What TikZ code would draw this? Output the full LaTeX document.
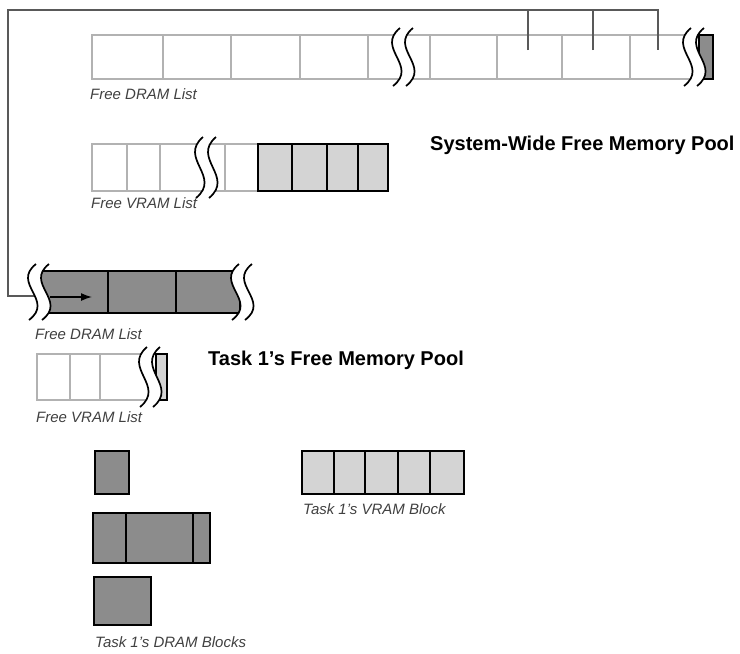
\documentclass[tikz,border=0pt]{standalone}
\usepackage{fontspec}
\setmainfont{Liberation Sans}
\usepackage{tikz}
\usetikzlibrary{arrows.meta}

% cut mark for a list that goes on: two waves with white between them
\newcommand{\membreak}[3]{%
  \pgfmathsetmacro{\bxa}{#1}\pgfmathsetmacro{\bxb}{#1+13}%
  \pgfmathsetmacro{\byt}{#2-7}\pgfmathsetmacro{\byb}{#3+7}%
  \pgfmathsetmacro{\byu}{\byt+0.35*(\byb-\byt)}\pgfmathsetmacro{\byl}{\byb-0.35*(\byb-\byt)}%
  \fill[white] (\bxa+3,\byt) .. controls (\bxa-22,\byu) and (\bxa+22,\byl) .. (\bxa-4,\byb)
    -- (\bxb-4,\byb) .. controls (\bxb+22,\byl) and (\bxb-22,\byu) .. (\bxb+3,\byt) -- cycle;
  \draw[wave] (\bxa+3,\byt) .. controls (\bxa-22,\byu) and (\bxa+22,\byl) .. (\bxa-4,\byb);
  \draw[wave] (\bxb+3,\byt) .. controls (\bxb-22,\byu) and (\bxb+22,\byl) .. (\bxb-4,\byb);
}

\begin{document}
\begin{tikzpicture}[
    x=1pt, y=-1pt,
    freecell/.style={rectangle, draw=black!30, line width=1.3pt, fill=white, inner sep=0pt, outer sep=0pt},
    dramcell/.style={rectangle, draw=black, line width=1.6pt, fill=black!45, inner sep=0pt, outer sep=0pt},
    vramcell/.style={rectangle, draw=black, line width=1.6pt, fill=black!17, inner sep=0pt, outer sep=0pt},
    wave/.style={draw=black, line width=1.7pt},
    link/.style={draw=black!65, line width=1.2pt},
    ptr/.style={-{Latex[length=11pt, width=8pt]}, line width=1.4pt},
    listlabel/.style={font=\fontsize{15}{17}\selectfont\itshape, text=black!75, anchor=base west, inner sep=0pt},
    poollabel/.style={font=\fontsize{20}{24}\selectfont\bfseries, anchor=base west, inner sep=0pt}
]
\useasboundingbox (0,0) rectangle (740,654);

% System-wide free DRAM list
\node[freecell, minimum width=71, minimum height=44] (sd1) at (127.5,57) {};
\node[freecell, minimum width=68, minimum height=44] (sd2) at (197,57) {};
\node[freecell, minimum width=69, minimum height=44] (sd3) at (265.5,57) {};
\node[freecell, minimum width=68, minimum height=44] (sd4) at (334,57) {};
\node[freecell, minimum width=62, minimum height=44] (sd5) at (399,57) {};
\node[freecell, minimum width=67, minimum height=44] (sd6) at (463.5,57) {};
\node[freecell, minimum width=65, minimum height=44] (sd7) at (529.5,57) {};
\node[freecell, minimum width=68, minimum height=44] (sd8) at (596,57) {};
\node[freecell, minimum width=65, minimum height=44] (sd9) at (662.5,57) {};
\node[dramcell, minimum width=14, minimum height=44] (sdend) at (706,57) {};

% System-wide free VRAM list
\node[freecell, minimum width=35, minimum height=47] (sv1) at (109.5,167.5) {};
\node[freecell, minimum width=33, minimum height=47] (sv2) at (143.5,167.5) {};
\node[freecell, minimum width=65, minimum height=47] (sv3) at (192.5,167.5) {};
\node[freecell, minimum width=33, minimum height=47] (sv4) at (241.5,167.5) {};
\node[vramcell, minimum width=34, minimum height=47] (sv5) at (275,167.5) {};
\node[vramcell, minimum width=35, minimum height=47] (sv6) at (309.5,167.5) {};
\node[vramcell, minimum width=31, minimum height=47] (sv7) at (342.5,167.5) {};
\node[vramcell, minimum width=30, minimum height=47] (sv8) at (373,167.5) {};

% Task 1's free DRAM list
\node[dramcell, minimum width=68, minimum height=42] (td1) at (74,292) {};
\node[dramcell, minimum width=68, minimum height=42] (td2) at (142,292) {};
\node[dramcell, minimum width=64, minimum height=42] (td3) at (208,292) {};

% Task 1's free VRAM list
\node[freecell, minimum width=33, minimum height=46] (tv1) at (53.5,377) {};
\node[freecell, minimum width=30, minimum height=46] (tv2) at (85,377) {};
\node[freecell, minimum width=50, minimum height=46] (tv3) at (125,377) {};
\node[vramcell, minimum width=11, minimum height=46] (tvend) at (161.5,377) {};

% Task 1's blocks
\node[dramcell, minimum width=34, minimum height=43] (db1) at (112,472.5) {};
\node[dramcell, minimum width=33, minimum height=50] (db2) at (109.5,538) {};
\node[dramcell, minimum width=67, minimum height=50] (db3) at (159.5,538) {};
\node[dramcell, minimum width=17, minimum height=50] (db4) at (201.5,538) {};
\node[dramcell, minimum width=57, minimum height=48] (db5) at (122.5,601) {};

\node[vramcell, minimum width=32, minimum height=43] (vb1) at (318,472.5) {};
\node[vramcell, minimum width=31, minimum height=43] (vb2) at (349.5,472.5) {};
\node[vramcell, minimum width=33, minimum height=43] (vb3) at (381.5,472.5) {};
\node[vramcell, minimum width=32, minimum height=43] (vb4) at (414,472.5) {};
\node[vramcell, minimum width=34, minimum height=43] (vb5) at (447,472.5) {};

% links from the system list to the task list
\coordinate (corner) at (8,10);
\coordinate (entry) at (36,296);
\coordinate (p1) at (528,50);
\coordinate (p2) at (593,50);
\coordinate (p3) at (658,50);
\draw[link] (entry) -| (corner) -| (p3);
\draw[link] (p1) -- (p1 |- corner);
\draw[link] (p2) -- (p2 |- corner);

% breaks
\membreak{397}{35}{79}
\membreak{688}{35}{79}
\membreak{200}{144}{191}
\membreak{33}{271}{313}
\membreak{236}{271}{313}
\membreak{144}{354}{400}

\draw[ptr] ([xshift=10pt, yshift=-5pt]td1.west) -- ([xshift=52pt, yshift=-5pt]td1.west);

% labels
\node[listlabel] (sdlbl) at (90,99) {Free DRAM List};
\node[listlabel] (svlbl) at (91,208) {Free VRAM List};
\node[listlabel] (tdlbl) at (35,339) {Free DRAM List};
\node[listlabel] (tvlbl) at (36,422) {Free VRAM List};
\node[listlabel] (vblbl) at (303,514) {Task 1's VRAM Block};
\node[listlabel] (dblbl) at (95,647) {Task 1's DRAM Blocks};
\node[poollabel] (syspool) at (430,150) {System-Wide Free Memory Pool};
\node[poollabel] (taskpool) at (208,365) {Task 1's Free Memory Pool};

\end{tikzpicture}
\end{document}
